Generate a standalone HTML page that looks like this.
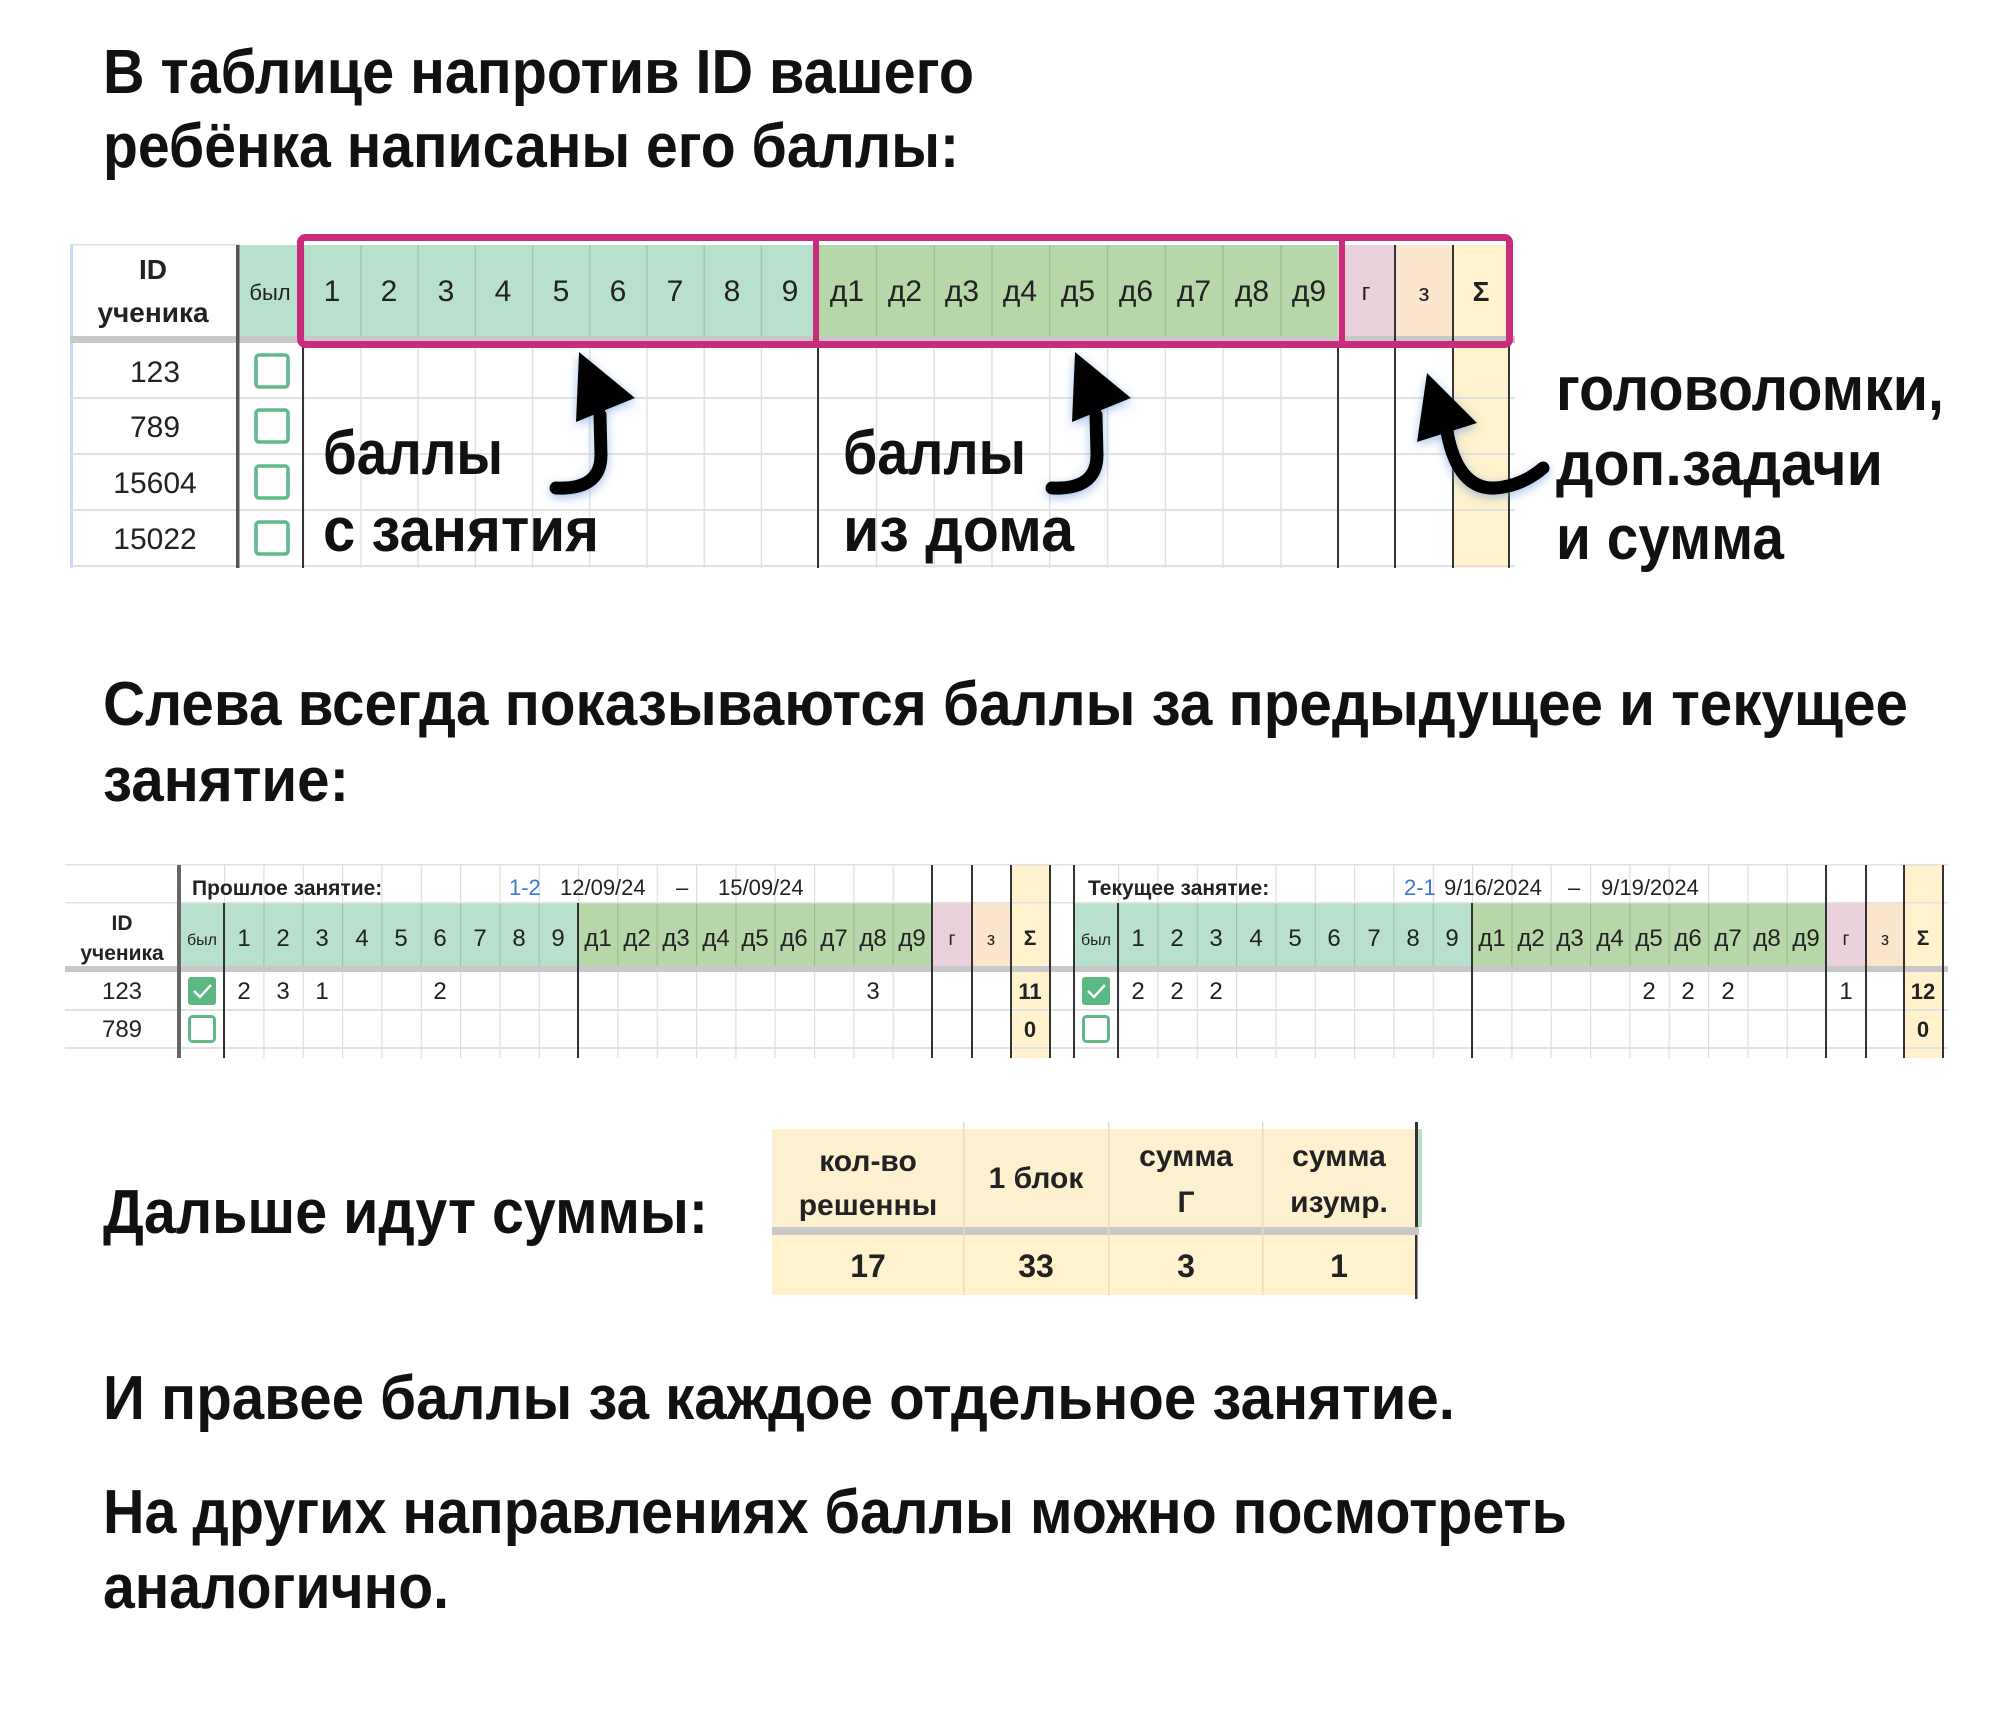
<!DOCTYPE html>
<html><head><meta charset="utf-8"><style>
html,body{margin:0;padding:0;background:#fff}
svg{display:block}
.big{font-family:"Liberation Sans","DejaVu Sans",sans-serif;font-weight:bold;font-size:62px;fill:#111}
.t{font-family:"Liberation Sans Narrow","Liberation Sans",sans-serif;fill:#222}
.b{font-family:"Liberation Sans",sans-serif;font-weight:bold;fill:#222}
</style></head><body>
<svg width="2000" height="1709" viewBox="0 0 2000 1709" xmlns="http://www.w3.org/2000/svg">
<defs>
<pattern id="g1" x="303" y="0" width="57.22" height="10" patternUnits="userSpaceOnUse"><rect width="1.3" height="10" fill="rgba(0,0,0,0.13)"/></pattern>
<pattern id="g1d" x="818" y="0" width="57.78" height="10" patternUnits="userSpaceOnUse"><rect width="1.3" height="10" fill="rgba(0,0,0,0.13)"/></pattern>
<pattern id="g2" x="224" y="0" width="39.33" height="10" patternUnits="userSpaceOnUse"><rect width="1.2" height="10" fill="rgba(0,0,0,0.13)"/></pattern>
<pattern id="g3" x="1118" y="0" width="39.33" height="10" patternUnits="userSpaceOnUse"><rect width="1.2" height="10" fill="rgba(0,0,0,0.13)"/></pattern>
<filter id="glow" x="-30%" y="-30%" width="160%" height="160%"><feDropShadow dx="0" dy="3" stdDeviation="5" flood-color="#5b8fd6" flood-opacity="0.55"/></filter>
</defs>

<text class="big" x="103" y="93" textLength="871" lengthAdjust="spacingAndGlyphs">В таблице напротив ID вашего</text>
<text class="big" x="103" y="167" textLength="856" lengthAdjust="spacingAndGlyphs">ребёнка написаны его баллы:</text>

<!-- TABLE 1 -->
<rect x="70" y="245" width="3" height="323" fill="#c9daf8"/>
<rect x="237" y="245" width="66" height="91" fill="#b7e1cd"/>
<rect x="303" y="245" width="515" height="91" fill="#b7e1cd"/>
<rect x="818" y="245" width="520" height="91" fill="#b6d7a8"/>
<rect x="1338" y="245" width="57" height="91" fill="#ead1dc"/>
<rect x="1395" y="245" width="58" height="91" fill="#fce5cd"/>
<rect x="1453" y="245" width="56" height="323" fill="#fff2cc"/>
<rect x="303" y="245" width="515" height="323" fill="url(#g1)"/>
<rect x="818" y="245" width="520" height="323" fill="url(#g1d)"/>
<g fill="#e2e2e2">
<rect x="70" y="397" width="1445" height="2"/><rect x="70" y="453" width="1445" height="2"/>
<rect x="70" y="509" width="1445" height="2"/><rect x="70" y="565" width="1445" height="2"/>
<rect x="70" y="244" width="170" height="1.5"/>
</g>
<rect x="70" y="336" width="1445" height="7" fill="#c8c8c8"/>
<g fill="#333">
<rect x="236" y="245" width="3.5" height="323" fill="#555"/>
<rect x="302" y="343" width="2" height="225"/><rect x="817" y="343" width="2" height="225"/>
<rect x="1337" y="343" width="2" height="225"/><rect x="1394" y="245" width="2" height="323"/>
<rect x="1452" y="245" width="2" height="323"/><rect x="1508" y="245" width="2" height="323"/>
</g>
<text class="b" x="153" y="279" font-size="28" text-anchor="middle">ID</text>
<text class="b" x="153" y="322" font-size="28" text-anchor="middle">ученика</text>
<g class="t" font-size="30" text-anchor="middle">
<text x="270" y="300" font-size="22">был</text>
<text x="332" y="301">1</text><text x="389" y="301">2</text><text x="446" y="301">3</text><text x="503" y="301">4</text><text x="561" y="301">5</text><text x="618" y="301">6</text><text x="675" y="301">7</text><text x="732" y="301">8</text><text x="790" y="301">9</text>
<text x="847" y="301">д1</text><text x="905" y="301">д2</text><text x="962" y="301">д3</text><text x="1020" y="301">д4</text><text x="1078" y="301">д5</text><text x="1136" y="301">д6</text><text x="1194" y="301">д7</text><text x="1252" y="301">д8</text><text x="1309" y="301">д9</text>
<text x="1366" y="300" font-size="24">г</text><text x="1424" y="301" font-size="24">з</text>
<text x="1481" y="301" class="b" font-size="28">Σ</text>
<text x="155" y="382">123</text><text x="155" y="437">789</text><text x="155" y="493">15604</text><text x="155" y="549">15022</text>
</g>
<g fill="none" stroke="#5fb98a" stroke-width="3.5">
<rect x="256" y="355" width="32" height="32" rx="3"/><rect x="256" y="410" width="32" height="32" rx="3"/>
<rect x="256" y="466" width="32" height="32" rx="3"/><rect x="256" y="522" width="32" height="32" rx="3"/>
</g>
<rect x="300.5" y="237.5" width="1209" height="107" rx="5" fill="none" stroke="#c92c7b" stroke-width="7"/>
<rect x="813" y="237" width="6" height="108" fill="#c92c7b"/>
<rect x="1339" y="237" width="6" height="108" fill="#c92c7b"/>

<text class="big" x="323" y="474" font-size="58" textLength="180" lengthAdjust="spacingAndGlyphs">баллы</text>
<text class="big" x="323" y="551" font-size="58" textLength="276" lengthAdjust="spacingAndGlyphs">с занятия</text>
<text class="big" x="843" y="474" font-size="58" textLength="183" lengthAdjust="spacingAndGlyphs">баллы</text>
<text class="big" x="843" y="551" font-size="58" textLength="231" lengthAdjust="spacingAndGlyphs">из дома</text>
<text class="big" x="1556" y="410" font-size="58" textLength="388" lengthAdjust="spacingAndGlyphs">головоломки,</text>
<text class="big" x="1556" y="485" font-size="58" textLength="327" lengthAdjust="spacingAndGlyphs">доп.задачи</text>
<text class="big" x="1556" y="559" font-size="58" textLength="228" lengthAdjust="spacingAndGlyphs">и сумма</text>

<g filter="url(#glow)">
<path d="M556,488 Q601,490 601,455 L600,415" fill="none" stroke="#000" stroke-width="13" stroke-linecap="round"/>
<polygon points="579,352 576,422 635,398" fill="#000"/>
<path d="M1052,488 Q1097,490 1097,455 L1096,415" fill="none" stroke="#000" stroke-width="13" stroke-linecap="round"/>
<polygon points="1075,352 1072,422 1131,398" fill="#000"/>
<path d="M1447,432 Q1458,490 1495,488 Q1522,486 1543,468" fill="none" stroke="#000" stroke-width="13" stroke-linecap="round"/>
<polygon points="1427,373 1417,442 1477,423" fill="#000"/>
</g>

<text class="big" x="103" y="725" textLength="1805" lengthAdjust="spacingAndGlyphs">Слева всегда показываются баллы за предыдущее и текущее</text>
<text class="big" x="103" y="801" textLength="246" lengthAdjust="spacingAndGlyphs">занятие:</text>

<!-- TABLE 2 -->
<rect x="179" y="903" width="45" height="63" fill="#b7e1cd"/>
<rect x="224" y="903" width="354" height="63" fill="#b7e1cd"/>
<rect x="578" y="903" width="354" height="63" fill="#b6d7a8"/>
<rect x="932" y="903" width="40" height="63" fill="#ead1dc"/>
<rect x="972" y="903" width="39" height="63" fill="#fce5cd"/>
<rect x="1011" y="865" width="39" height="193" fill="#fff2cc"/>
<rect x="1074" y="903" width="44" height="63" fill="#b7e1cd"/>
<rect x="1118" y="903" width="354" height="63" fill="#b7e1cd"/>
<rect x="1472" y="903" width="354" height="63" fill="#b6d7a8"/>
<rect x="1826" y="903" width="40" height="63" fill="#ead1dc"/>
<rect x="1866" y="903" width="38" height="63" fill="#fce5cd"/>
<rect x="1904" y="865" width="39" height="193" fill="#fff2cc"/>
<rect x="224" y="865" width="708" height="193" fill="url(#g2)"/>
<rect x="1118" y="865" width="708" height="193" fill="url(#g3)"/>
<g fill="#e2e2e2">
<rect x="65" y="864" width="1883" height="1.5"/><rect x="65" y="902" width="1883" height="1.5"/>
<rect x="65" y="1009" width="1883" height="2"/><rect x="65" y="1047" width="1883" height="2"/>
</g>
<rect x="65" y="966" width="1883" height="6" fill="#c8c8c8"/>
<g fill="#333">
<rect x="177" y="865" width="4" height="193" fill="#666"/>
<rect x="223" y="903" width="2" height="155"/><rect x="577" y="903" width="2" height="155"/>
<rect x="931" y="865" width="2" height="193"/><rect x="971" y="865" width="2" height="193"/>
<rect x="1010" y="865" width="2" height="193"/><rect x="1049" y="865" width="2" height="193"/>
<rect x="1073" y="865" width="2" height="193"/><rect x="1117" y="903" width="2" height="155"/>
<rect x="1471" y="903" width="2" height="155"/><rect x="1825" y="865" width="2" height="193"/>
<rect x="1865" y="865" width="2" height="193"/><rect x="1903" y="865" width="2" height="193"/>
<rect x="1942" y="865" width="2" height="193"/>
</g>
<text class="b" x="192" y="895" font-size="21">Прошлое занятие:</text>
<g class="t" font-size="22">
<text x="509" y="895" fill="#3c78d8">1-2</text><text x="560" y="895">12/09/24</text><text x="676" y="895">–</text><text x="718" y="895">15/09/24</text>
</g>
<text class="b" x="1088" y="895" font-size="21">Текущее занятие:</text>
<g class="t" font-size="22">
<text x="1404" y="895" fill="#3c78d8">2-1</text><text x="1444" y="895">9/16/2024</text><text x="1568" y="895">–</text><text x="1601" y="895">9/19/2024</text>
</g>
<text class="b" x="122" y="930" font-size="21" text-anchor="middle">ID</text>
<text class="b" x="122" y="960" font-size="21" text-anchor="middle">ученика</text>
<g class="t" font-size="24" text-anchor="middle">
<text x="202" y="945" font-size="16">был</text>
<text x="244" y="946">1</text><text x="283" y="946">2</text><text x="322" y="946">3</text><text x="362" y="946">4</text><text x="401" y="946">5</text><text x="440" y="946">6</text><text x="480" y="946">7</text><text x="519" y="946">8</text><text x="558" y="946">9</text>
<text x="598" y="946">д1</text><text x="637" y="946">д2</text><text x="676" y="946">д3</text><text x="716" y="946">д4</text><text x="755" y="946">д5</text><text x="794" y="946">д6</text><text x="834" y="946">д7</text><text x="873" y="946">д8</text><text x="912" y="946">д9</text>
<text x="952" y="945" font-size="19">г</text><text x="991" y="945" font-size="18">з</text><text x="1030" y="945" class="b" font-size="21">Σ</text>
<text x="1096" y="945" font-size="16">был</text>
<text x="1138" y="946">1</text><text x="1177" y="946">2</text><text x="1216" y="946">3</text><text x="1256" y="946">4</text><text x="1295" y="946">5</text><text x="1334" y="946">6</text><text x="1374" y="946">7</text><text x="1413" y="946">8</text><text x="1452" y="946">9</text>
<text x="1492" y="946">д1</text><text x="1531" y="946">д2</text><text x="1570" y="946">д3</text><text x="1610" y="946">д4</text><text x="1649" y="946">д5</text><text x="1688" y="946">д6</text><text x="1728" y="946">д7</text><text x="1767" y="946">д8</text><text x="1806" y="946">д9</text>
<text x="1846" y="945" font-size="19">г</text><text x="1885" y="945" font-size="18">з</text><text x="1923" y="945" class="b" font-size="21">Σ</text>
<text x="122" y="999">123</text><text x="122" y="1037">789</text>
<text x="244" y="999">2</text><text x="283" y="999">3</text><text x="322" y="999">1</text><text x="440" y="999">2</text><text x="873" y="999">3</text>
<text x="1138" y="999">2</text><text x="1177" y="999">2</text><text x="1216" y="999">2</text>
<text x="1649" y="999">2</text><text x="1688" y="999">2</text><text x="1728" y="999">2</text><text x="1846" y="999">1</text>
</g>
<g class="b" font-size="22" text-anchor="middle">
<text x="1030" y="999">11</text><text x="1030" y="1037">0</text><text x="1923" y="999">12</text><text x="1923" y="1037">0</text>
</g>
<g>
<rect x="188" y="977" width="28" height="28" rx="3" fill="#5bb882"/>
<path d="M194,991 l6,6 l11,-12" fill="none" stroke="#fff" stroke-width="2.5"/>
<rect x="1082" y="977" width="28" height="28" rx="3" fill="#5bb882"/>
<path d="M1088,991 l6,6 l11,-12" fill="none" stroke="#fff" stroke-width="2.5"/>
<rect x="189.5" y="1016.5" width="25" height="25" rx="3" fill="none" stroke="#5fb98a" stroke-width="3"/>
<rect x="1083.5" y="1016.5" width="25" height="25" rx="3" fill="none" stroke="#5fb98a" stroke-width="3"/>
</g>

<!-- TABLE 3 -->
<text class="big" x="103" y="1233" textLength="605" lengthAdjust="spacingAndGlyphs">Дальше идут суммы:</text>
<g transform="translate(-4,-6)">
<rect x="776" y="1135" width="643" height="98" fill="#fdf0cf"/>
<rect x="776" y="1241" width="643" height="60" fill="#fff2cc"/>
<rect x="776" y="1233" width="647" height="8" fill="#c8c8c8"/>
<g fill="#e6dcc0">
<rect x="967" y="1128" width="1.5" height="173"/><rect x="1112" y="1128" width="1.5" height="173"/><rect x="1266" y="1128" width="1.5" height="173"/>
</g>
<rect x="1419" y="1128" width="3" height="105" fill="#333"/>
<rect x="1422" y="1135" width="4" height="98" fill="#b7e1cd"/>
<rect x="1419" y="1241" width="2.5" height="64" fill="#333"/>
<g class="b" font-size="30" text-anchor="middle">
<text x="872" y="1177">кол-во</text><text x="872" y="1221">решенны</text>
<text x="1040" y="1194">1 блок</text>
<text x="1190" y="1172">сумма</text><text x="1190" y="1218">Г</text>
<text x="1343" y="1172">сумма</text><text x="1343" y="1218">изумр.</text>
<text x="872" y="1283" font-size="32">17</text><text x="1040" y="1283" font-size="32">33</text>
<text x="1190" y="1283" font-size="32">3</text><text x="1343" y="1283" font-size="32">1</text>
</g>
</g>

<text class="big" x="103" y="1419" textLength="1352" lengthAdjust="spacingAndGlyphs">И правее баллы за каждое отдельное занятие.</text>
<text class="big" x="103" y="1533" textLength="1464" lengthAdjust="spacingAndGlyphs">На других направлениях баллы можно посмотреть</text>
<text class="big" x="103" y="1608" textLength="346" lengthAdjust="spacingAndGlyphs">аналогично.</text>
</svg>
</body></html>
